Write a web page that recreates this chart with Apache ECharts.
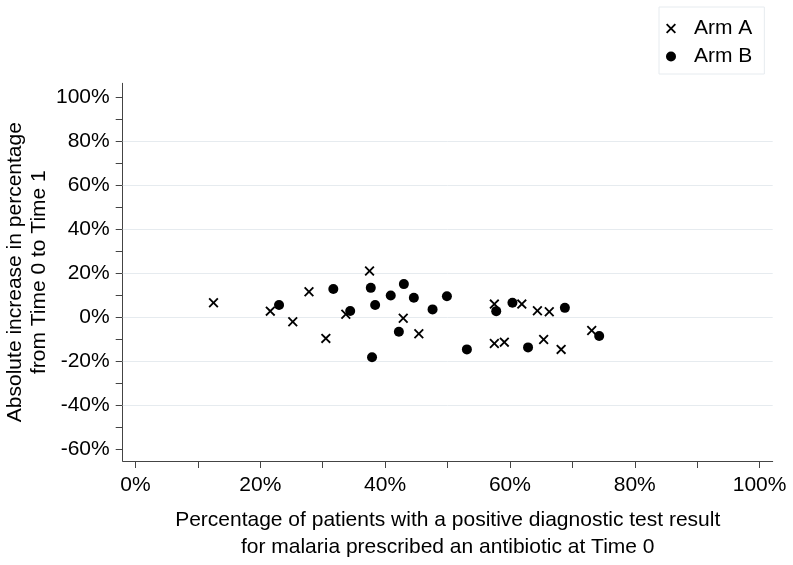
<!DOCTYPE html>
<html>
<head>
<meta charset="utf-8">
<script src="https://cdn.jsdelivr.net/npm/echarts@6/dist/echarts.min.js"></script>
<style>html,body{margin:0;padding:0;background:#fff;}#c{width:793px;height:565px;}</style>
</head>
<body>
<div id="c"></div>
<script>
// Data (x = % positive test prescribed antibiotic at Time 0, y = absolute increase Time 0 -> Time 1)
const armA_x = [12.5, 21.6, 25.2, 27.8, 30.5, 33.7, 37.5, 42.9, 45.4, 57.5, 57.5, 59.1, 61.9, 64.4, 66.3, 65.4, 68.2, 73.1];
const armA_y = [6.5, 2.7, -2.1, 11.5, -9.7, 1.3, 21.0, -0.5, -7.6, 5.9, -12.0, -11.4, 5.9, 2.9, 2.4, -10.2, -14.7, -6.1];
const armB_x = [23.0, 31.7, 34.4, 37.7, 38.4, 37.9, 40.9, 43.0, 44.6, 42.2, 47.6, 49.9, 53.1, 57.8, 60.4, 68.8, 62.9, 74.3];
const armB_y = [5.5, 12.8, 2.8, 13.3, 5.5, -18.3, 9.8, 15.0, 8.8, -6.7, 3.5, 9.5, -14.7, 2.7, 6.5, 4.2, -13.8, -8.6];
const xTicks = [0, 10, 20, 30, 40, 50, 60, 70, 80, 90, 100];
const xLabels = [0, 20, 40, 60, 80, 100];
const yTicks = [-60, -50, -40, -30, -20, -10, 0, 10, 20, 30, 40, 50, 60, 70, 80, 90, 100];
const yLabels = [-60, -40, -20, 0, 20, 40, 60, 80, 100];
const yGrid = [-40, -20, 0, 20, 40, 60, 80];
const seriesNames = ['Arm A', 'Arm B'];

const crossPath = 'path://M0,13L13,0L50,37L87,0L100,13L63,50L100,87L87,100L50,63L13,100L0,87L37,50Z';
const FONT = 'Liberation Sans, Arial, sans-serif';
const FS = 21;
const zip = (xs, ys) => xs.map((x, i) => [x, ys[i]]);

const chart = echarts.init(document.getElementById('c'), null, {renderer: 'canvas'});
chart.setOption({
  animation: false,
  backgroundColor: '#fff',
  textStyle: {fontFamily: FONT},
  grid: {left: 122.7, right: 20.3, top: 83.3, bottom: 104, containLabel: false, outerBoundsMode: 'none'},
  legend: {
    orient: 'vertical', left: 659, top: 7,
    padding: [11, 12, 7, 7],
    borderColor: '#e6ebef', borderWidth: 1,
    itemWidth: 20, itemHeight: 10, itemGap: 7,
    textStyle: {fontSize: FS, color: '#000', fontFamily: FONT, padding: [0, 0, 0, 8]},
    data: seriesNames
  },
  xAxis: {
    type: 'value', min: -2.05, max: 102.1,
    name: 'Percentage of patients with a positive diagnostic test result\nfor malaria prescribed an antibiotic at Time 0',
    nameLocation: 'middle', nameGap: 46, nameMoveOverlap: false,
    nameTextStyle: {fontSize: FS, color: '#000', lineHeight: 27, fontFamily: FONT},
    axisLine: {show: true, onZero: false, lineStyle: {color: '#444', width: 1}},
    axisTick: {show: true, length: 7, customValues: xTicks, lineStyle: {color: '#444'}},
    axisLabel: {customValues: xLabels, formatter: v => v + '%', fontSize: FS, color: '#000', margin: 14, fontFamily: FONT},
    splitLine: {show: false}
  },
  yAxis: {
    type: 'value', min: -65.5, max: 106.4,
    name: 'Absolute increase in percentage\nfrom Time 0 to Time 1',
    nameLocation: 'middle', nameGap: 71, nameRotate: 90, nameMoveOverlap: false,
    nameTextStyle: {fontSize: FS, color: '#000', lineHeight: 24, fontFamily: FONT},
    axisLine: {show: true, onZero: false, lineStyle: {color: '#444', width: 1}},
    axisTick: {show: true, length: 7, customValues: yTicks, lineStyle: {color: '#444'}},
    axisLabel: {customValues: yLabels, formatter: v => v + '%', fontSize: FS, color: '#000', margin: 13, fontFamily: FONT},
    splitLine: {show: false}
  },
  series: [
    {
      name: seriesNames[0], type: 'scatter',
      symbol: crossPath, symbolSize: 10, symbolKeepAspect: true,
      itemStyle: {color: '#000', opacity: 1},
      data: zip(armA_x, armA_y),
      z: 3,
      markLine: {
        silent: true, symbol: ['none', 'none'], label: {show: false},
        lineStyle: {color: '#e6ebef', width: 1, type: 'solid'},
        data: yGrid.map(v => ({yAxis: v})),
        z: 1
      }
    },
    {
      name: seriesNames[1], type: 'scatter',
      symbol: 'circle', symbolSize: 10,
      itemStyle: {color: '#000', opacity: 1},
      data: zip(armB_x, armB_y),
      z: 3
    }
  ]
});
</script>
</body>
</html>
